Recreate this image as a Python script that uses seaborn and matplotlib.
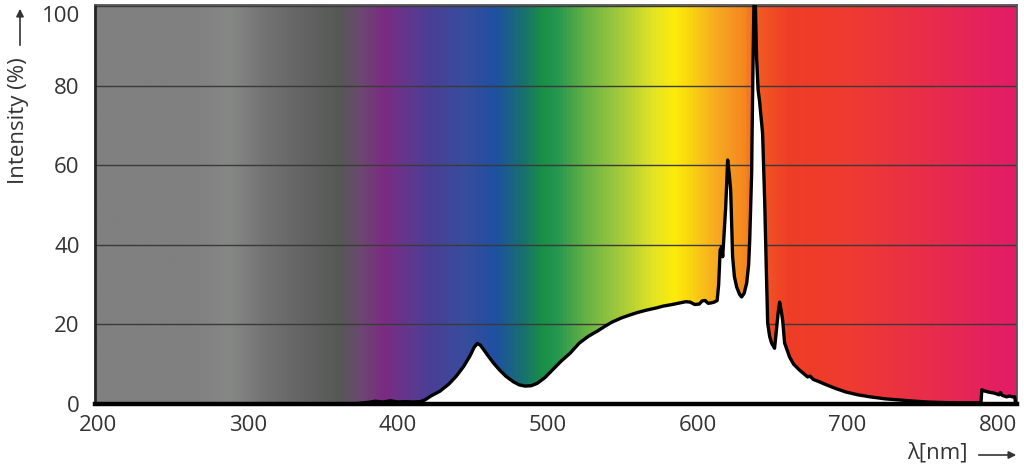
import numpy as np
import pandas as pd
import matplotlib
matplotlib.use("Agg")
import matplotlib.pyplot as plt
import matplotlib.transforms as mtransforms
from matplotlib.colors import LinearSegmentedColormap, to_rgb
import seaborn as sns

# ---- data ----
wavelength = [200, 370, 380, 385, 390, 395, 400, 405, 410, 415, 418, 422, 428, 434, 439,
              444, 448, 451, 453, 455, 457, 460, 464, 468, 472, 477, 481, 485, 489, 493,
              498, 503, 509, 515, 521, 527, 533, 538, 543, 549, 555, 560, 566, 572, 577,
              583, 588, 592, 595, 598, 601, 603, 605, 607, 609, 611, 613, 614, 615, 616,
              616.7, 617.5, 618.7, 620, 621, 622, 623.3, 624.5, 626, 628, 629.3, 631, 632.7,
              634, 634.7, 636, 636.7, 637.5, 638.5, 639.3, 640.3, 641.3, 642.3, 643.3,
              644.7, 645.7, 646.7, 648, 649.3, 651.3, 652.7, 653.7, 654.7, 655.7, 656.7,
              658, 661.3, 664, 668, 673.3, 675, 677, 681, 686, 692, 699, 707, 715, 725,
              735, 745, 753, 765, 775, 789, 789.5, 791, 794, 797, 799, 801, 802, 803, 806,
              808, 810, 811.5, 812]
intensity = [0, 0, 0.4, 0.7, 0.5, 0.8, 0.5, 0.6, 0.5, 0.6, 1.0, 2.0, 3.2, 5.0, 7.0,
             9.5, 12.0, 14.3, 15.2, 14.8, 13.8, 12.2, 10.2, 8.5, 7.0, 5.6, 4.8, 4.5, 4.6, 5.2,
             6.6, 8.5, 10.8, 12.8, 15.3, 17.0, 18.3, 19.5, 20.6, 21.6, 22.4, 23.0, 23.6, 24.1, 24.6,
             25.0, 25.4, 25.7, 25.6, 25.0, 25.1, 25.9, 26.0, 25.3, 25.4, 25.6, 26.0, 30.0, 38.7, 39.5,
             37.0, 42.0, 49.5, 61.3, 58.0, 53.8, 37.0, 32.0, 29.4, 27.5, 26.9, 27.8, 30.4,
             35.0, 41.0, 58.0, 80.0, 100.0, 100.0, 87.0, 79.0, 76.0, 72.0, 68.0,
             51.0, 35.0, 20.3, 17.0, 15.3, 14.0, 19.3, 23.0, 25.6, 23.5, 21.0,
             15.3, 11.8, 10.0, 8.5, 6.8, 7.0, 6.2, 5.6, 4.8, 3.9, 3.0, 2.3, 1.8, 1.3,
             1.0, 0.7, 0.5, 0.35, 0.3, 0.3, 3.6, 3.3, 3.0, 2.8, 2.6, 2.3, 2.9, 2.2, 1.8,
             2.0, 1.8, 1.8, 0.3]

x_ticks = [200, 300, 400, 500, 600, 700, 800]
y_ticks = [0, 20, 40, 60, 80, 100]

# spectrum background colour stops (wavelength, colour)
grad_nm = [198, 265, 287, 310, 332, 361, 374, 390, 410, 421, 443, 465, 483, 497, 505,
           527, 550, 572, 585, 594, 612, 632, 641, 661, 705, 750, 805, 813]
grad_col = ["#808080", "#808080", "#868886", "#737373", "#656665", "#565856", "#6a4a6e",
            "#7b2b82", "#5c3a90", "#4a3e96", "#3a4c9c", "#1f50a2", "#177070", "#1a9044",
            "#229550", "#6ab444", "#a8cc3a", "#e6e524", "#fcec0a", "#fbd80e", "#f7ac22",
            "#f5861f", "#f15a24", "#ef3e26", "#ee3a32", "#e92e48", "#e41e64", "#e31c66"]

XMIN, XMAX = 198, 813
YMAX = 100.25

sns.set_theme(style="white")
plt.rcParams["font.family"] = ["Open Sans", "DejaVu Sans"]
TXT = "#333333"
FS = 16

fig = plt.figure(figsize=(10.24, 4.69), dpi=100)
ax = fig.add_axes([95 / 1024, 65 / 469, 922 / 1024, 399 / 469])

# gradient background
pos = [(v - XMIN) / (XMAX - XMIN) for v in grad_nm]
cmap = LinearSegmentedColormap.from_list("spec", list(zip(pos, [to_rgb(c) for c in grad_col])))
grad = np.linspace(0, 1, 1200).reshape(1, -1)
ax.imshow(grad, cmap=cmap, aspect="auto", extent=[XMIN, XMAX, 0, YMAX],
          interpolation="bilinear", zorder=0)

df = pd.DataFrame({"wavelength": wavelength, "intensity": intensity})
ax.fill_between(df["wavelength"], 0, df["intensity"], color="white", lw=0, zorder=1)
sns.lineplot(data=df, x="wavelength", y="intensity", ax=ax, color="black",
             lw=2.4, zorder=3, sort=False)

ax.set_xlim(XMIN, XMAX)
ax.set_ylim(0, YMAX)
ax.set_xticks(x_ticks)
ax.set_yticks(y_ticks)
ax.set_axisbelow(True)
ax.yaxis.grid(True, color="#3a3a3a", lw=1.0, zorder=0.5)
ax.xaxis.grid(False)
ax.tick_params(axis="both", length=0, labelsize=FS, labelcolor=TXT)
ax.tick_params(axis="x", pad=8)
ax.tick_params(axis="y", pad=11)
ax.set_xlabel("")
ax.set_ylabel("")

# top label "100" sits a little below its grid line, as in the reference
top_lbl = ax.get_yticklabels()[-1]
top_lbl.set_transform(top_lbl.get_transform() +
                      mtransforms.ScaledTranslation(0, -8 / 100, fig.dpi_scale_trans))

for s in ["top", "right"]:
    ax.spines[s].set_color("#555555")
    ax.spines[s].set_linewidth(1.3)
ax.spines["left"].set_color("#222222")
ax.spines["left"].set_linewidth(2.0)
ax.spines["bottom"].set_color("black")
ax.spines["bottom"].set_linewidth(3.2)
ax.spines["bottom"].set_zorder(4)

# axis labels with arrows
fig.text(19 / 1024, 1 - 121 / 469, "Intensity (%)", rotation=90, ha="center", va="center",
         fontsize=FS, color=TXT)
fig.add_artist(matplotlib.patches.FancyArrowPatch(
    (20 / 1024, 1 - 48 / 469), (20 / 1024, 1 - 6 / 469), transform=fig.transFigure,
    arrowstyle="-|>", mutation_scale=11, color=TXT, lw=1.2))
fig.text(907 / 1024, 1 - 453 / 469, "λ[nm]", ha="left", va="center", fontsize=FS, color=TXT)
fig.add_artist(matplotlib.patches.FancyArrowPatch(
    (976 / 1024, 1 - 455 / 469), (1019 / 1024, 1 - 455 / 469), transform=fig.transFigure,
    arrowstyle="-|>", mutation_scale=11, color=TXT, lw=1.2))

fig.savefig("out.png", dpi=100)
